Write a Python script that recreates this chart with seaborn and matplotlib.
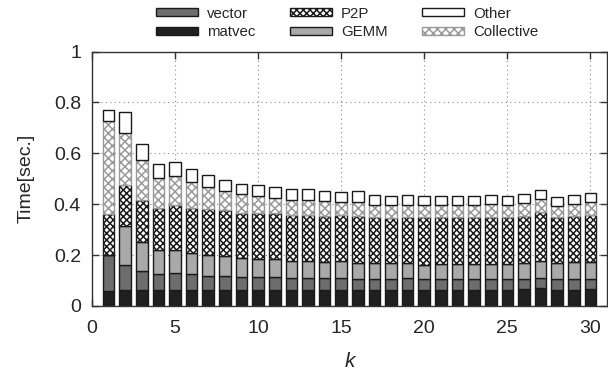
import numpy as np
import pandas as pd
import matplotlib
matplotlib.use("Agg")
import matplotlib.pyplot as plt
from matplotlib.patches import Patch
import seaborn as sns

# Block size k
k = list(range(1, 31))

# Time per component [sec.]
matvec = [0.059, 0.062, 0.062, 0.061, 0.064, 0.064, 0.064, 0.064, 0.064, 0.064,
          0.064, 0.064, 0.064, 0.064, 0.062, 0.064, 0.064, 0.064, 0.064, 0.064,
          0.064, 0.064, 0.064, 0.064, 0.063, 0.066, 0.070, 0.064, 0.062, 0.066]
vector = [0.143, 0.101, 0.074, 0.066, 0.065, 0.060, 0.055, 0.052, 0.050, 0.050,
          0.050, 0.047, 0.047, 0.046, 0.049, 0.043, 0.043, 0.043, 0.046, 0.042,
          0.043, 0.043, 0.043, 0.043, 0.043, 0.040, 0.041, 0.042, 0.044, 0.041]
gemm = [0.000, 0.150, 0.116, 0.094, 0.092, 0.084, 0.081, 0.079, 0.075, 0.072,
        0.070, 0.066, 0.064, 0.063, 0.064, 0.060, 0.060, 0.060, 0.057, 0.057,
        0.057, 0.057, 0.057, 0.058, 0.058, 0.061, 0.066, 0.061, 0.065, 0.066]
p2p = [0.161, 0.164, 0.164, 0.164, 0.177, 0.179, 0.180, 0.181, 0.178, 0.181,
       0.182, 0.182, 0.182, 0.182, 0.184, 0.188, 0.181, 0.178, 0.184, 0.185,
       0.184, 0.184, 0.184, 0.186, 0.184, 0.188, 0.193, 0.184, 0.184, 0.186]
collective = [0.362, 0.204, 0.158, 0.117, 0.113, 0.100, 0.087, 0.074, 0.073, 0.065,
              0.058, 0.059, 0.058, 0.058, 0.051, 0.054, 0.050, 0.052, 0.047, 0.050,
              0.049, 0.048, 0.049, 0.049, 0.049, 0.050, 0.049, 0.043, 0.047, 0.048]
other = [0.047, 0.082, 0.064, 0.057, 0.054, 0.050, 0.046, 0.045, 0.041, 0.044,
         0.045, 0.042, 0.043, 0.038, 0.039, 0.044, 0.039, 0.036, 0.038, 0.035,
         0.036, 0.036, 0.036, 0.036, 0.034, 0.034, 0.035, 0.035, 0.035, 0.038]

series = {
    "Other": other,
    "Collective": collective,
    "P2P": p2p,
    "GEMM": gemm,
    "vector": vector,
    "matvec": matvec,
}
# Stack order top -> bottom (seaborn puts the last hue level at the bottom)
stack_order = list(series.keys())

# Appearance of each component
styles = {
    "matvec":     dict(facecolor="#202020", edgecolor="#1a1a1a", hatch=None),
    "vector":     dict(facecolor="#6d6d6d", edgecolor="#1a1a1a", hatch=None),
    "GEMM":       dict(facecolor="#a9a9a9", edgecolor="#1a1a1a", hatch=None),
    "P2P":        dict(facecolor="white", edgecolor="#1a1a1a", hatch="xxxxx"),
    "Collective": dict(facecolor="white", edgecolor="#9a9a9a", hatch="xxxx"),
    "Other":      dict(facecolor="white", edgecolor="#1a1a1a", hatch=None),
}

rows = []
for name, vals in series.items():
    for kk, v in zip(k, vals):
        rows.append({"k": kk, "part": name, "time": v})
df = pd.DataFrame(rows)

sns.set_style("ticks")
plt.rcParams["font.family"] = ["Liberation Sans", "DejaVu Sans"]
plt.rcParams["hatch.linewidth"] = 1.1

fig = plt.figure(figsize=(6.08, 3.78), dpi=100)
ax = fig.add_axes([92 / 608, 1 - 306 / 378, (607 - 92) / 608, (306 - 51.5) / 378])

sns.histplot(
    data=df, x="k", weights="time", hue="part", hue_order=stack_order,
    multiple="stack", discrete=True, shrink=0.7, alpha=1,
    palette={n: styles[n]["facecolor"] for n in stack_order},
    linewidth=1.0, legend=False, ax=ax,
)

# Style each stacked layer according to its component
for cont in ax.containers:
    h = np.asarray(cont.datavalues, dtype=float)
    for name, vals in series.items():
        if len(h) == len(vals) and np.allclose(h, vals, atol=1e-9):
            st = styles[name]
            for bar in cont:
                bar.set_facecolor(st["facecolor"])
                bar.set_edgecolor(st["edgecolor"])
                bar.set_linewidth(1.0)
                if st["hatch"]:
                    bar.set_hatch(st["hatch"])
            break

ax.set_xlim(0, 31)
ax.set_ylim(0, 1)
ax.set_xticks(range(0, 31, 5))
ax.set_yticks([0, 0.2, 0.4, 0.6, 0.8, 1.0])
ax.set_yticklabels(["0", "0.2", "0.4", "0.6", "0.8", "1"])
ax.set_axisbelow(True)
ax.grid(True, linestyle=(0, (1, 3)), color="#8a8a8a", linewidth=0.8)
ax.tick_params(direction="in", top=True, right=True, length=5, width=1,
               color="#333333", labelsize=14)
ax.tick_params(axis="x", pad=10)
ax.tick_params(axis="y", pad=8)
for sp in ax.spines.values():
    sp.set_visible(True)
    sp.set_color("#333333")
    sp.set_linewidth(1.0)

ax.set_xlabel("k", fontsize=15, style="italic", labelpad=11)
ax.set_ylabel("Time[sec.]", fontsize=14, labelpad=14)

legend_order = ["vector", "matvec", "P2P", "GEMM", "Other", "Collective"]
handles = [Patch(facecolor=styles[n]["facecolor"], edgecolor=styles[n]["edgecolor"],
                 hatch=styles[n]["hatch"], linewidth=1.0, label=n)
           for n in legend_order]
fig.legend(handles=handles, loc="center", bbox_to_anchor=(0.571, 1 - 23 / 378),
           ncol=3, frameon=False, fontsize=10.8, handlelength=2.8,
           handleheight=0.45, columnspacing=2.3, labelspacing=0.3,
           handletextpad=0.6)

fig.savefig("out.png", dpi=100)
